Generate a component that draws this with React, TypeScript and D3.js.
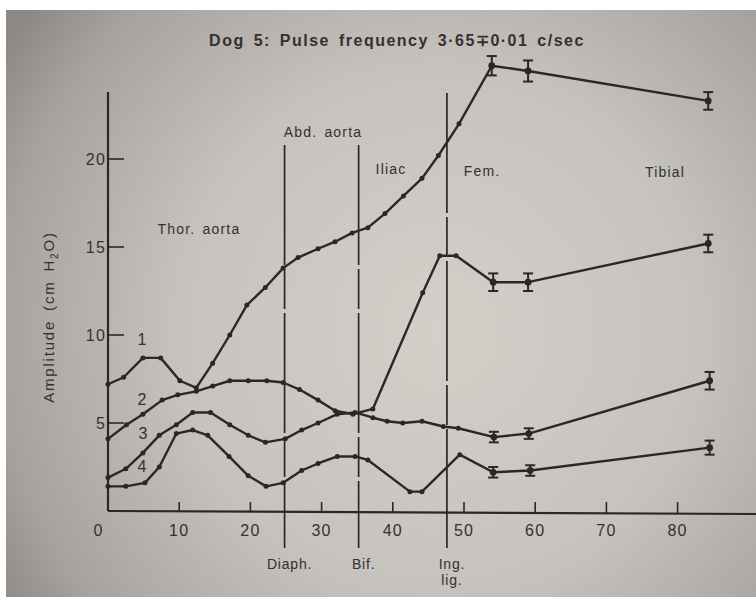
import React from "react";
import * as d3 from "d3";

const xTicks = [10, 20, 30, 40, 50, 60, 70, 80];
const yTicks = [5, 10, 15, 20];

const s1x = [0, 2.2, 4.9, 7.4, 10.1, 12.4, 14.7, 17.1, 19.5, 22.1, 24.6, 26.7, 29.5, 31.9, 34.3, 36.5, 38.9, 41.5, 44.1, 46.4, 49.3, 53.9, 59.0, 84.3];
const s1y = [7.2, 7.6, 8.7, 8.7, 7.4, 7.0, 8.4, 10.0, 11.7, 12.7, 13.8, 14.4, 14.9, 15.3, 15.8, 16.1, 16.9, 17.9, 18.9, 20.2, 22.0, 25.3, 25.0, 23.3];
const s1e = [0, 0, 0, 0, 0, 0, 0, 0, 0, 0, 0, 0, 0, 0, 0, 0, 0, 0, 0, 0, 0, 0.55, 0.6, 0.5];

const s2x = [0, 2.6, 4.9, 7.6, 9.8, 12.4, 14.7, 17.1, 19.7, 22.3, 24.6, 26.9, 29.5, 31.9, 34.4, 37.2, 44.2, 46.6, 48.9, 54.1, 59.0, 84.3];
const s2y = [4.1, 4.9, 5.5, 6.3, 6.6, 6.8, 7.1, 7.4, 7.4, 7.4, 7.3, 6.9, 6.3, 5.7, 5.5, 5.8, 12.4, 14.5, 14.5, 13.0, 13.0, 15.2];
const s2e = [0, 0, 0, 0, 0, 0, 0, 0, 0, 0, 0, 0, 0, 0, 0, 0, 0, 0, 0, 0.5, 0.5, 0.5];

const s3x = [0, 2.5, 4.9, 7.2, 9.6, 11.9, 14.4, 17.1, 19.7, 22.1, 24.9, 27.2, 29.5, 32.2, 34.7, 37.2, 39.2, 41.4, 44.1, 47.1, 49.2, 54.2, 59.1, 84.5];
const s3y = [1.9, 2.4, 3.3, 4.3, 4.9, 5.6, 5.6, 4.9, 4.3, 3.9, 4.1, 4.6, 5.0, 5.5, 5.6, 5.3, 5.1, 5.0, 5.1, 4.8, 4.7, 4.2, 4.4, 7.4];
const s3e = [0, 0, 0, 0, 0, 0, 0, 0, 0, 0, 0, 0, 0, 0, 0, 0, 0, 0, 0, 0, 0, 0.3, 0.3, 0.5];

const s4x = [0, 2.5, 5.2, 7.2, 9.6, 11.9, 14.0, 17.0, 19.7, 22.2, 24.6, 27.2, 29.5, 32.2, 34.7, 36.5, 42.4, 44.1, 49.4, 54.1, 59.3, 84.5];
const s4y = [1.4, 1.4, 1.6, 2.5, 4.4, 4.6, 4.3, 3.1, 2.0, 1.4, 1.6, 2.3, 2.7, 3.1, 3.1, 2.9, 1.1, 1.1, 3.2, 2.2, 2.3, 3.6];
const s4e = [0, 0, 0, 0, 0, 0, 0, 0, 0, 0, 0, 0, 0, 0, 0, 0, 0, 0, 0, 0.3, 0.3, 0.4];

const seriesNames = ["1", "2", "3", "4"];
const seriesLabelPos = [[142, 345], [142, 405], [143, 439], [142, 472]];

const markerNames = ["Diaph.", "Bif.", "Ing.|lig."];
const markerX = [24.8, 35.2, 47.6];
const markerTop = [145, 145, 93];

const regionNames = ["Thor. aorta", "Abd. aorta", "Iliac", "Fem.", "Tibial"];
const regionPos = [[199, 234], [323, 137], [391, 174], [482, 176], [665, 177]];

const INK = "#2b2727";
const TXT = "#353030";
const FONT = "'Liberation Sans', Arial, sans-serif";

export default function App() {
  const x = d3.scaleLinear().domain([0, 90]).range([108, 108 + 7.12 * 90]);
  const y = d3.scaleLinear().domain([0, 20]).range([511, 159]);
  const line = d3.line<[number, number]>().x(d => x(d[0])).y(d => y(d[1]));

  const series = [
    { xs: s1x, ys: s1y, es: s1e },
    { xs: s2x, ys: s2y, es: s2e },
    { xs: s3x, ys: s3y, es: s3e },
    { xs: s4x, ys: s4y, es: s4e },
  ];

  return (
    <div style={{ position: "absolute", left: 0, top: 0 }}>
      <svg width={756} height={597} style={{ display: "block" }} fontFamily={FONT}>
        <defs>
          <radialGradient id="paper" cx="440" cy="330" r="520" gradientUnits="userSpaceOnUse">
            <stop offset="0" stopColor="#d3d0ca" />
            <stop offset="0.5" stopColor="#c6c2bd" />
            <stop offset="0.85" stopColor="#a8a29e" />
            <stop offset="1" stopColor="#8e8884" />
          </radialGradient>
        </defs>
        <rect x={0} y={0} width={756} height={597} fill="#ffffff" />
        <rect x={6} y={10} width={750} height={587} fill="url(#paper)" />

        {/* title */}
        <text x={397} y={46} textAnchor="middle" fontSize={16} fontWeight="bold" letterSpacing={1.5} wordSpacing={3} fill={TXT}>
          Dog 5: Pulse frequency 3·65∓0·01 c/sec
        </text>

        {/* axes */}
        <line x1={x(0)} x2={756} y1={y(0)} y2={y(0) + 3} stroke={INK} strokeWidth={2.2} />
        <line x1={x(0)} x2={x(0)} y1={92} y2={y(0)} stroke={INK} strokeWidth={2.2} />
        {xTicks.map(t => (
          <g key={"xt" + t}>
            <line x1={x(t)} x2={x(t)} y1={y(0) + (t / 90) * 3} y2={y(0) - 9} stroke={INK} strokeWidth={1.6} />
            <text x={x(t)} y={y(0) + 25} textAnchor="middle" fontSize={16} letterSpacing={1.2} fill={TXT}>{t}</text>
          </g>
        ))}
        <text x={x(0) - 10} y={y(0) + 25} textAnchor="middle" fontSize={16} fill={TXT}>0</text>
        {yTicks.map(t => (
          <g key={"yt" + t}>
            <line x1={x(0)} x2={x(0) + 16} y1={y(t)} y2={y(t)} stroke={INK} strokeWidth={1.6} />
            <text x={x(0) - 2} y={y(t) + 6} textAnchor="end" fontSize={16} letterSpacing={1.2} fill={TXT}>{t}</text>
          </g>
        ))}
        <text transform={`translate(54, 317) rotate(-90)`} textAnchor="middle" fontSize={15} letterSpacing={1.8} wordSpacing={3} fill={TXT}>
          Amplitude (cm H<tspan fontSize={10} dy={4}>2</tspan><tspan dy={-4}>O)</tspan>
        </text>

        {/* anatomical markers */}
        {markerX.map((m, i) => {
          const parts = markerNames[i].split("|");
          return (
            <g key={"m" + i}>
              <line x1={x(m)} x2={x(m)} y1={markerTop[i]} y2={548} stroke={INK} strokeWidth={1.7} strokeDasharray="120 4 40 4" />
              {parts.map((p, j) => (
                <text key={j} x={x(m) + 5} y={569 + j * 16} textAnchor="middle" fontSize={14} letterSpacing={0.8} fill={TXT}>{p}</text>
              ))}
            </g>
          );
        })}
        {regionNames.map((r, i) => (
          <text key={"r" + i} x={regionPos[i][0]} y={regionPos[i][1]} textAnchor="middle" fontSize={14} letterSpacing={1.2} wordSpacing={2} fill={TXT}>{r}</text>
        ))}

        {/* series */}
        {series.map((s, si) => {
          const pts: [number, number][] = s.xs.map((v, i) => [v, s.ys[i]]);
          return (
            <g key={"s" + si}>
              <path d={line(pts) || ""} fill="none" stroke={INK} strokeWidth={2.4} strokeLinejoin="round" />
              {pts.map((p, i) => {
                const e = s.es[i];
                if (e > 0) {
                  return (
                    <g key={i} stroke={INK} strokeWidth={2}>
                      <line x1={x(p[0])} x2={x(p[0])} y1={y(p[1] - e)} y2={y(p[1] + e)} />
                      <line x1={x(p[0]) - 5} x2={x(p[0]) + 5} y1={y(p[1] - e)} y2={y(p[1] - e)} />
                      <line x1={x(p[0]) - 5} x2={x(p[0]) + 5} y1={y(p[1] + e)} y2={y(p[1] + e)} />
                      <circle cx={x(p[0])} cy={y(p[1])} r={3.4} fill={INK} stroke="none" />
                    </g>
                  );
                }
                return <circle key={i} cx={x(p[0])} cy={y(p[1])} r={2.5} fill={INK} />;
              })}
            </g>
          );
        })}
        {seriesNames.map((n, i) => (
          <text key={"n" + i} x={seriesLabelPos[i][0]} y={seriesLabelPos[i][1]} textAnchor="middle" fontSize={16} fill={TXT}>{n}</text>
        ))}
      </svg>
    </div>
  );
}
